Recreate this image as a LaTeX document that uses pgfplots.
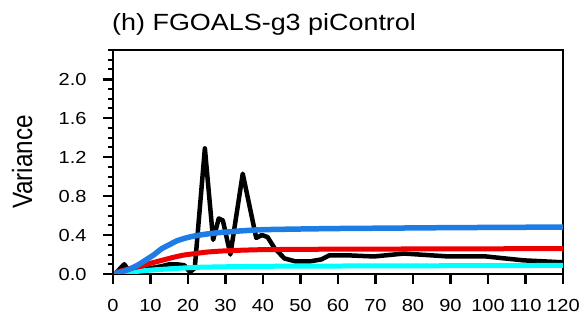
\documentclass[border=0pt]{standalone}
\usepackage{fontspec}
\setmainfont{Liberation Sans}
\newfontfamily\widesans[FakeStretch=1.15]{Liberation Sans}
\newfontfamily\narrowsans[FakeStretch=0.87]{Liberation Sans}
\usepackage{pgfplots}
\pgfplotsset{compat=1.18}

\definecolor{ncblue}{RGB}{30,125,228}
\definecolor{ncred}{RGB}{238,0,0}
\definecolor{nccyan}{RGB}{0,255,255}

\begin{document}
\begin{tikzpicture}
\useasboundingbox (-113bp,-53bp) rectangle (472bp,274bp);
\begin{axis}[
  at={(0,0)}, anchor=south west,
  scale only axis,
  width=450bp, height=224bp,
  xmin=0, xmax=120, ymin=0, ymax=2.3,
  xtick={0,10,...,120},
  ytick={0,0.4,...,2.0},
  minor ytick={0.1,0.2,...,2.3},
  axis line style={black, line width=2.6bp},
  major tick style={black, line width=2.6bp},
  minor tick style={black, line width=2bp},
  tick align=outside,
  major tick length=10bp,
  minor tick length=5bp,
  xtick pos=left, ytick pos=left,
  scaled y ticks=false,
  /pgf/number format/assume math mode=true,
  yticklabel style={/pgf/number format/fixed,/pgf/number format/fixed zerofill,/pgf/number format/precision=1, font=\widesans\fontsize{17.5}{20}\selectfont, xshift=-13bp},
  xticklabel style={font=\widesans\fontsize{17.5}{20}\selectfont, yshift=-12bp},
  ylabel={Variance},
  ylabel style={font=\narrowsans\fontsize{28}{30}\selectfont, at={(axis description cs:-0.202,0.5)}, anchor=center},
  every axis plot/.append style={line join=round, line cap=round},
]
% black: spectrum of the control run
\addplot[black, line width=4.5bp] coordinates {
 (1,0.02) (3,0.10) (4.5,0.02) (7,0.04) (10,0.06) (13,0.08) (15,0.10)
 (17,0.10) (19,0.09) (20.5,0.02) (21.8,0.06) (24.5,1.29) (26.7,0.35)
 (28.2,0.57) (29.3,0.55) (31.3,0.20) (34.6,1.03) (38.2,0.37) (39.7,0.40)
 (41.2,0.38) (43,0.27) (45.7,0.16) (48.6,0.13) (52.6,0.13) (55.6,0.15)
 (57.6,0.19) (63.6,0.19) (69.6,0.18) (77.6,0.21) (89.5,0.18) (99.5,0.18)
 (109.5,0.14) (120,0.12)
};
% cyan
\addplot[nccyan, line width=5bp, smooth] coordinates {
 (1,0.0) (3,0.01) (6,0.025) (10,0.04) (14,0.05) (18,0.06) (22,0.068)
 (28,0.073) (35,0.077) (45,0.08) (60,0.082) (80,0.084) (100,0.086) (120,0.088)
};
% red
\addplot[ncred, line width=5bp, smooth] coordinates {
 (1,0.02) (3,0.04) (5,0.06) (8,0.085) (10,0.11) (13,0.14) (16,0.17)
 (19,0.195) (22,0.21) (25,0.225) (30,0.238) (35,0.245) (40,0.25)
 (50,0.253) (60,0.255) (80,0.257) (100,0.259) (120,0.26)
};
% blue
\addplot[ncblue, line width=5.5bp, smooth] coordinates {
 (1,0.01) (3,0.03) (5,0.06) (7,0.10) (9,0.15) (11,0.20) (13,0.26)
 (15,0.30) (17,0.34) (19,0.365) (21,0.385) (24,0.405) (27,0.42) (30,0.43)
 (35,0.445) (40,0.455) (50,0.462) (60,0.467) (70,0.47) (80,0.473)
 (90,0.476) (100,0.478) (110,0.48) (120,0.482)
};
\end{axis}
\node[anchor=base west, inner sep=0pt, font=\widesans\fontsize{23.5}{28}\selectfont]
  at (-1bp,243bp) {(h) FGOALS-g3 piControl};
\end{tikzpicture}
\end{document}
